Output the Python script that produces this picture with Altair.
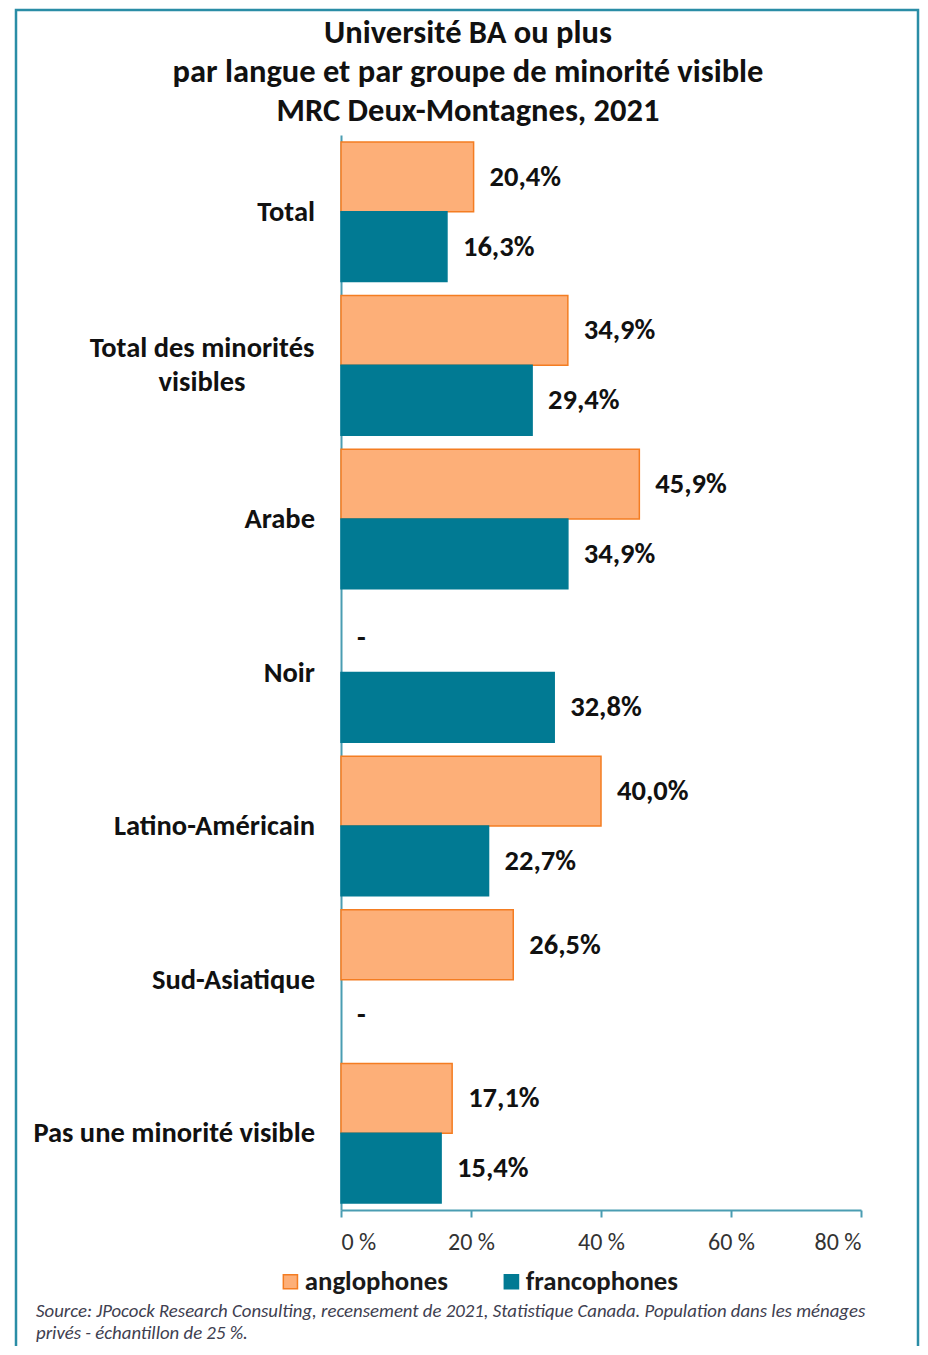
import altair as alt
import pandas as pd

categories = ["Total", "Total des minorités visibles", "Arabe", "Noir",
              "Latino-Américain", "Sud-Asiatique", "Pas une minorité visible"]
languages = ["anglophones", "francophones"]
anglo = [20.4, 34.9, 45.9, None, 40.0, 26.5, 17.1]
franco = [16.3, 29.4, 34.9, 32.8, 22.7, None, 15.4]
x_ticks = [0, 20, 40, 60, 80]

title_lines = ["Université BA ou plus",
               "par langue et par groupe de minorité visible",
               "MRC Deux-Montagnes, 2021"]
source_lines = ["Source: JPocock Research Consulting, recensement de 2021, Statistique Canada. Population dans les ménages",
                "privés - échantillon de 25 %."]

FONT = "Carlito, Lato, sans-serif"
TEAL = "#017A93"
ORANGE_FILL = "#FDAF78"
ORANGE_LINE = "#F47D22"
FRAME = "#2A8DA6"
AXIS = "#4A9DB2"

rows = []
for c, a, f in zip(categories, anglo, franco):
    for lang, v in (("anglophones", a), ("francophones", f)):
        lab = "-" if v is None else (f"{v:.1f}".replace(".", ",") + "%")
        rows.append({"cat": c, "lang": lang, "value": v, "label": lab})
df = pd.DataFrame(rows)

label_rows = []
for c in categories:
    text = "Total des minorités\nvisibles" if c == "Total des minorités visibles" else c
    label_rows.append({"cat": c, "text": text, "multi": "\n" in text})
ldf = pd.DataFrame(label_rows)

one = pd.DataFrame({"title": ["\n".join(title_lines)], "source": ["\n".join(source_lines)]})

yscale = alt.Scale(domain=categories, paddingInner=0.091, paddingOuter=0.0455)
xscale = alt.Scale(domain=[0, 80])
color_scale = alt.Scale(domain=languages, range=[ORANGE_FILL, TEAL])
stroke_scale = alt.Scale(domain=languages, range=[ORANGE_LINE, TEAL])

legend = alt.Legend(
    title=None, orient="none", legendX=-64, legendY=1133, direction="horizontal",
    symbolType="square", symbolSize=200, symbolStrokeWidth=1.5,
    labelFont=FONT, labelFontSize=26.8, labelFontWeight="bold", labelColor="#1a1a1a",
    columnPadding=50, labelOffset=1,
)

bars = alt.Chart(df).mark_bar(strokeWidth=1.5).encode(
    x=alt.X("value:Q", scale=xscale,
            axis=alt.Axis(values=x_ticks, labelExpr="datum.value + ' %'", title=None,
                          grid=False, domainColor=AXIS, domainWidth=2,
                          tickColor=AXIS, tickSize=7, tickWidth=2,
                          labelFont=FONT, labelFontSize=24, labelColor="#333333",
                          labelPadding=13)),
    y=alt.Y("cat:N", scale=yscale, sort=categories,
            axis=alt.Axis(labels=False, ticks=False, title=None, domainColor=AXIS,
                          domainWidth=2, grid=False)),
    yOffset=alt.YOffset("lang:N", sort=languages),
    fill=alt.Fill("lang:N", scale=color_scale, legend=legend),
    stroke=alt.Stroke("lang:N", scale=stroke_scale, legend=legend),
)

values = alt.Chart(df).transform_calculate(
    xpos="datum.value == null ? 0 : datum.value"
).mark_text(align="left", baseline="middle", dx=16, font=FONT, fontSize=28.5,
            fontWeight="bold", color="#111111").encode(
    x=alt.X("xpos:Q", scale=xscale),
    y=alt.Y("cat:N", scale=yscale, sort=categories),
    yOffset=alt.YOffset("lang:N", sort=languages),
    text="label:N",
)

ylabels = alt.Chart(ldf).transform_filter("!datum.multi").mark_text(
    align="right", baseline="middle", font=FONT, fontSize=28.5, fontWeight="bold",
    color="#111111").encode(
    x=alt.value(-26),
    y=alt.Y("cat:N", scale=yscale, sort=categories),
    text="text:N",
)

ylabels_multi = alt.Chart(ldf).transform_filter("datum.multi").mark_text(
    align="center", baseline="middle", font=FONT, fontSize=28.5, fontWeight="bold",
    color="#111111", lineBreak="\n", lineHeight=34, dy=-17).encode(
    x=alt.value(-139),
    y=alt.Y("cat:N", scale=yscale, sort=categories),
    text="text:N",
)

title = alt.Chart(one).mark_text(
    align="center", baseline="top", font=FONT, fontSize=32.5, fontWeight="bold",
    color="#111111", lineBreak="\n", lineHeight=39).encode(
    x=alt.value(127), y=alt.value(-118), text="title:N")

source = alt.Chart(one).mark_text(
    align="left", baseline="top", font=FONT, fontSize=18.8, fontStyle="italic",
    color="#404050", lineBreak="\n", lineHeight=21.5).encode(
    x=alt.value(-305), y=alt.value(1167), text="source:N")

frame = alt.Chart(one).mark_rect(fill=None, stroke=FRAME, strokeWidth=2.5).encode(
    x=alt.value(-325), x2=alt.value(577), y=alt.value(-125), y2=alt.value(1260))

chart = alt.layer(frame, bars, values, ylabels, ylabels_multi, title, source).properties(
    width=520, height=1075,
    autosize=alt.AutoSizeParams(type="none"),
    padding={"left": 333, "top": 127, "right": 59, "bottom": 136},
).configure(background="white").configure_view(strokeWidth=0, stroke=None)

chart.save("out.html", embed_options={"renderer": "svg", "actions": False})
